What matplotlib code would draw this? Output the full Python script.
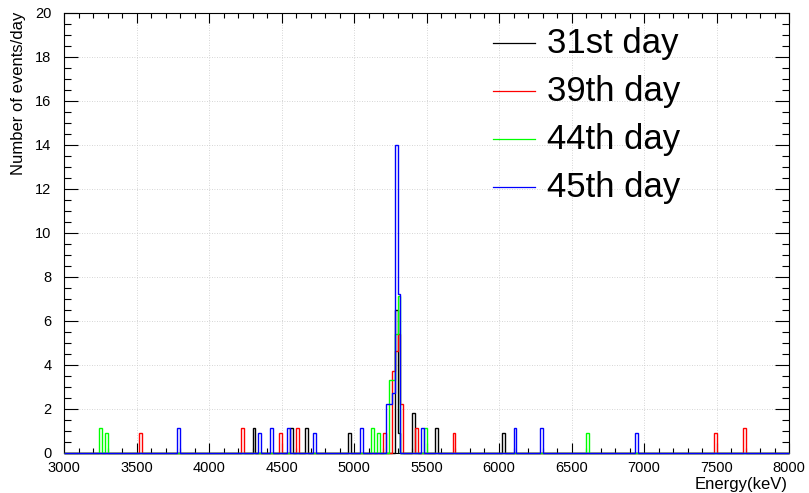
import matplotlib
matplotlib.use('Agg')
import matplotlib.pyplot as plt
from matplotlib.lines import Line2D
import numpy as np

plt.rcParams['font.family'] = ['Liberation Sans', 'DejaVu Sans']

# 20 keV bins between 3000 and 8000 keV
edges = np.arange(3000, 8001, 20)

day_labels = ['31st day', '39th day', '44th day', '45th day']
day_colors = ['#000000', '#ff0000', '#00ff00', '#0000ff']

# lower edge of every non-empty bin (keV) and its rate (events/day)
e31 = [4300, 4560, 4660, 4960, 5280, 5300, 5400, 5560, 6020]
n31 = [1.1, 1.1, 1.1, 0.9, 6.5, 0.9, 1.8, 1.1, 0.9]

e39 = [3520, 4220, 4480, 4600, 5200, 5260, 5280, 5300, 5320, 5420, 5680, 7480, 7680]
n39 = [0.9, 1.1, 0.9, 1.1, 0.9, 3.7, 4.6, 5.4, 2.2, 1.1, 0.9, 0.9, 1.1]

e44 = [3240, 3280, 5120, 5160, 5240, 5260, 5280, 5300, 5480, 6600]
n44 = [1.1, 0.9, 1.1, 0.9, 3.3, 3.3, 5.4, 7.1, 1.1, 0.9]

e45 = [3780, 4340, 4420, 4540, 4720, 5040, 5220, 5240, 5260, 5280, 5300,
       5460, 6100, 6280, 6940]
n45 = [1.1, 0.9, 1.1, 1.1, 0.9, 1.1, 2.2, 2.2, 2.7, 14.0, 7.2,
       1.1, 1.1, 1.1, 0.9]

days = [(e31, n31), (e39, n39), (e44, n44), (e45, n45)]

fig = plt.figure(figsize=(8.09, 4.93), dpi=100)
ax = fig.add_axes([64 / 809, 40.5 / 493, 725 / 809, 439.5 / 493])

for (e, n), c in zip(days, day_colors):
    rates, _ = np.histogram(np.array(e) + 10, bins=edges, weights=n)
    ax.stairs(rates, edges, color=c, lw=1.0, baseline=0, zorder=3, clip_on=False)

ax.set_xlim(3000, 8000)
ax.set_ylim(0, 20)
ax.set_xticks(np.arange(3000, 8001, 500))
ax.set_xticks(np.arange(3000, 8001, 100), minor=True)
ax.set_yticks(np.arange(0, 21, 2))
ax.set_yticks(np.arange(0, 20.01, 0.5), minor=True)
ax.tick_params(which='both', direction='in', top=True, right=True, width=0.8, labelsize=10.5)
ax.tick_params(axis='x', which='major', length=7.2, pad=6)
ax.tick_params(axis='x', which='minor', length=3.6)
ax.tick_params(axis='y', which='major', length=10, pad=9)
ax.tick_params(axis='y', which='minor', length=5)
ax.grid(True, which='major', color='#c8c8c8', lw=0.6, ls=(0, (1, 2)))
for s in ax.spines.values():
    s.set_linewidth(0.8)

fig.text(19 / 809, 1 - 12 / 493, 'Number of events/day', rotation=90,
         ha='center', va='top', fontsize=12)
fig.text(788 / 809, 1 - 484 / 493, 'Energy(keV)', ha='right', va='center', fontsize=12)

# legend without a box, drawn by hand
for i, (lab, c) in enumerate(zip(day_labels, day_colors)):
    y = 42.7 + 48 * i
    fig.add_artist(Line2D([493 / 809, 535 / 809], [1 - y / 493, 1 - y / 493],
                          color=c, lw=0.9, transform=fig.transFigure))
    fig.text(547 / 809, 1 - (y + 10.6) / 493, lab, ha='left', va='baseline', fontsize=25)

fig.savefig('out.png', dpi=100)
